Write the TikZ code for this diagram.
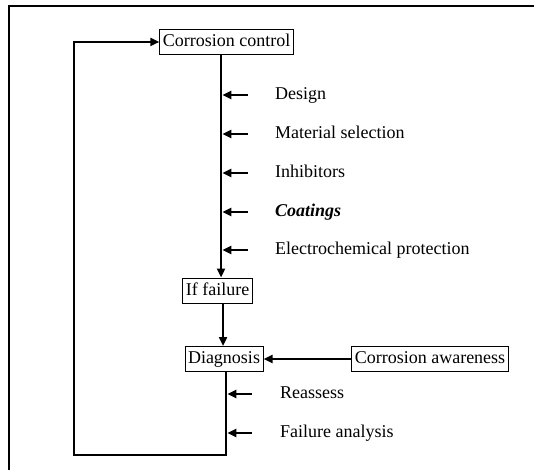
\documentclass[tikz,border=0pt]{standalone}
\usepackage{fontspec}
\setmainfont{Liberation Serif}
\usetikzlibrary{arrows.meta,calc}
\begin{document}
\begin{tikzpicture}[x=1pt,y=-1pt,
  every node/.style={font=\fontsize{18}{20}\selectfont},
  boxnode/.style={draw,line width=1pt,inner xsep=3pt,inner ysep=4pt,text height=13pt,text depth=4pt},
  lab/.style={anchor=west,inner sep=0pt,text height=13pt,text depth=4pt},
  thick line/.style={line width=2.8pt},
  arr/.style={thick line,-{Triangle[length=9pt,width=8pt]}},
  sarr/.style={line width=2.8pt,-{Triangle[length=9pt,width=8pt]}}]
\useasboundingbox (0,0) rectangle (534,470);
% frame (top and left only)
\draw[line width=2.2pt] (9,470) -- (9,6) -- (534,6);
% boxes
\node[boxnode] (cc) at (226.5,42) {Corrosion control};
\node[boxnode] (iff) at (217.5,290.5) {If failure};
\node[boxnode] (diag) at (224,359) {Diagnosis};
\node[boxnode] (aware) at (430,359) {Corrosion awareness};
% labels
\node[lab] (l1) at (275,95) {Design};
\node[lab] (l2) at (275,134) {Material selection};
\node[lab] (l3) at (275,173) {Inhibitors};
\node[lab] (l4) at (275,212) {\bfseries\itshape Coatings};
\node[lab] (l5) at (275,250) {Electrochemical protection};
\node[lab] (l6) at (280,394) {Reassess};
\node[lab] (l7) at (280,433) {Failure analysis};
% main vertical
\coordinate (m) at (221,0);
\coordinate (n) at (223,0);
\coordinate (k) at (226,0);
\draw[arr] (cc.south -| m) -- (iff.north -| m);
\draw[arr] (iff.south -| n) -- (diag.north -| n);
% input arrows
\foreach \i in {1,...,5}{
  \draw[sarr] ($(l\i.west)+(-27,0)$) -- ($(l\i.west -| m)+(1.4,0)$);
}
\foreach \i in {6,7}{
  \draw[sarr] ($(l\i.west)+(-28,0)$) -- ($(l\i.west -| k)+(1.4,0)$);
}
% awareness
\draw[arr] (aware.west) -- (diag.east);
% feedback loop
\coordinate (bl) at (74,455);
\draw[arr] (diag.south -| k) -- (k |- bl) -- (bl) -- (bl |- cc.west) -- (cc.west);
\end{tikzpicture}
\end{document}
